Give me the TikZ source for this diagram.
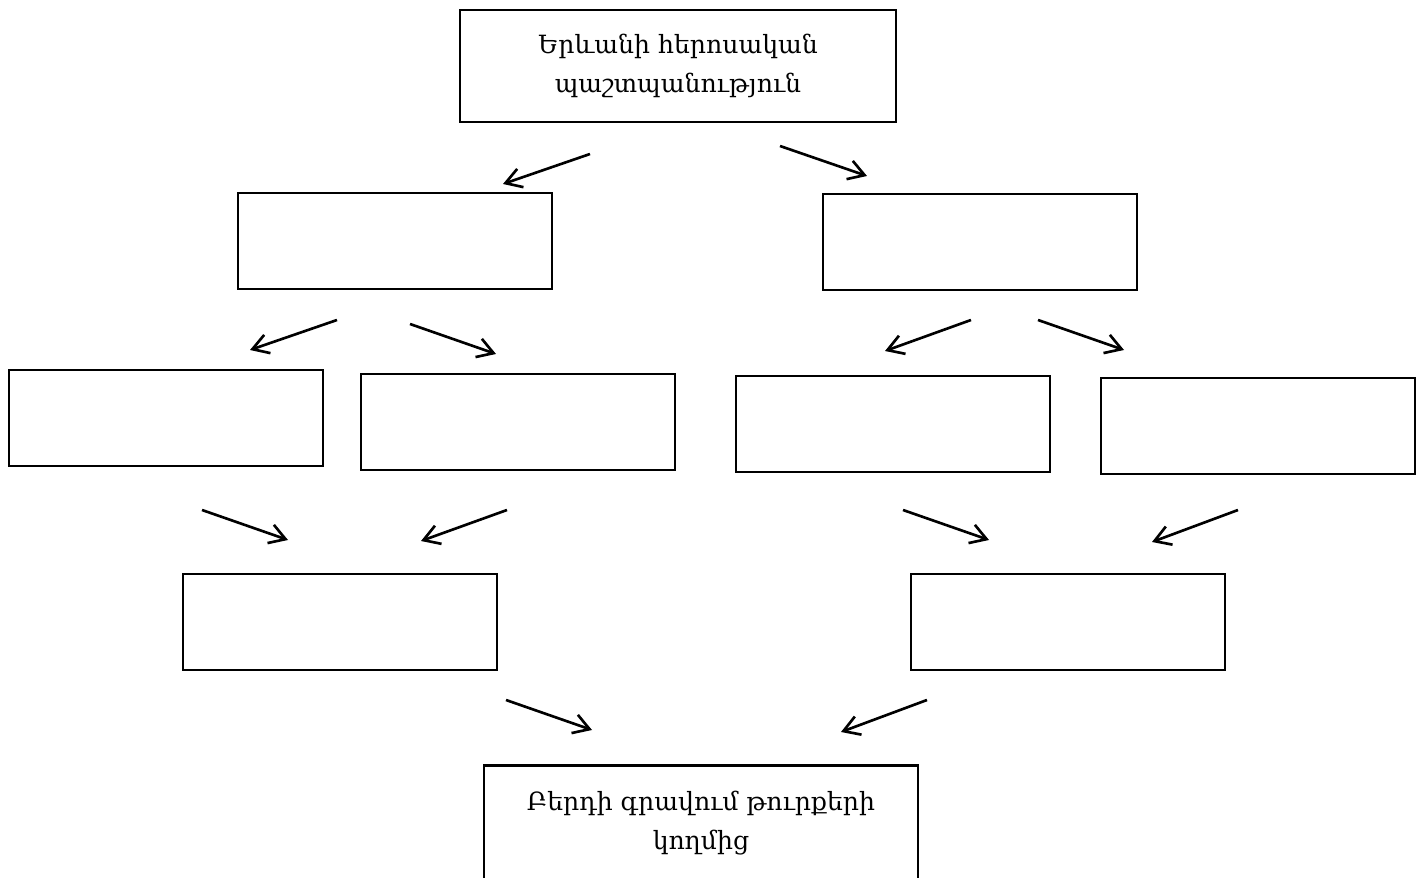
\documentclass[tikz,border=0pt]{standalone}
\usepackage{fontspec}
\newfontfamily\armfont{DejaVu Serif}
\usetikzlibrary{arrows.meta}

\begin{document}
\begin{tikzpicture}[x = 0.02cm, y = -0.02cm,
    box/.style = {shape = rectangle, draw, line width = 1.5pt, minimum width = 6.28cm, minimum height = 1.92cm},
    bigbox/.style = {box, minimum width = 8.72cm, minimum height = 2.24cm, align = center,
        font = \armfont\fontsize{14.3}{22.5}\selectfont},
    arr/.style = {line width = 1.5pt, -{Straight Barb[length = 9pt, width = 11pt, line width = 1.5pt]}}]
    \useasboundingbox (0,0) rectangle (1424,878);
    % top and bottom
    \node [bigbox] (top) at (678,66) {Երևանի հերոսական\\պաշտպանություն};
    \node [bigbox, minimum width = 8.68cm, minimum height = 2.3cm] (fall) at (701,823) {Բերդի գրավում թուրքերի\\կողմից};
    % empty boxes
    \node [box] (L) at (395,241) {};
    \node [box] (R) at (980,242) {};
    \node [box] (LL) at (166,418) {};
    \node [box] (LR) at (518,422) {};
    \node [box] (RL) at (893,424) {};
    \node [box] (RR) at (1258,426) {};
    \node [box] (BL) at (340,622) {};
    \node [box] (BR) at (1068,622) {};
    % arrows
    \foreach \sx/\sy/\ex/\ey [count = \i] in {590/154/503/184, 780/146/867/176,
        337/320/250/350, 410/324/496/354, 971/320/885/351, 1038/320/1124/350,
        202/510/288/540, 507/510/421/541, 903/510/989/540, 1238/510/1152/542,
        506/700/592/730, 927/700/841/732}{
        \coordinate (s\i) at (\sx,\sy);
        \coordinate (e\i) at (\ex,\ey);
        \draw [arr] (s\i) -- (e\i);
    }
\end{tikzpicture}
\end{document}
